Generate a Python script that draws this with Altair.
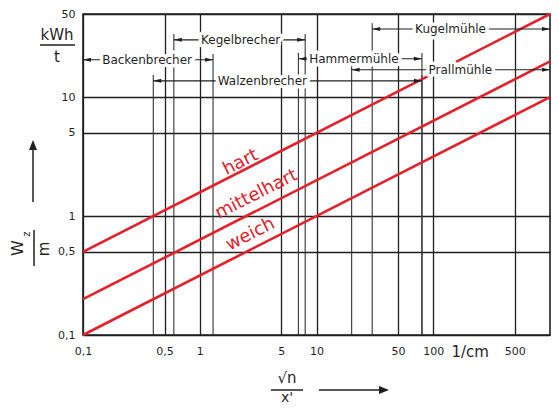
import altair as alt
import pandas as pd

# ---------------- data ----------------
series = ["hart", "hart", "mittelhart", "mittelhart", "weich", "weich"]
line_x = [0.1, 1000, 0.1, 1000, 0.1, 1000]
line_y = [0.5, 50, 0.2, 20, 0.1, 10]

label_text = ["hart", "mittelhart", "weich"]
label_x = [2.24, 3.06, 2.72]
label_y = [2.82, 1.52, 0.70]

x_ticks = [0.1, 0.5, 1, 5, 10, 50, 100, 500]
y_ticks = [0.1, 0.5, 1, 5, 10, 50]

machines = ["Backenbrecher", "Kegelbrecher", "Walzenbrecher",
            "Hammermühle", "Kugelmühle", "Prallmühle"]
m_from = [0.1, 0.6, 0.4, 7, 30, 20]
m_to = [1.3, 8, 80, 80, 1000, 1000]
m_level = [20.6, 30.3, 13.7, 21.0, 37.4, 17.0]
m_label_x = [0.354, 2.24, 3.44, 20.9, 140.6, 170.6]

X_MIN, X_MAX = 0.1, 1000
Y_MIN, Y_MAX = 0.1, 50

# ---------------- tables ----------------
lines_df = pd.DataFrame({"s": series, "x": line_x, "y": line_y})
labels_df = pd.DataFrame({"t": label_text, "x": label_x, "y": label_y})
mach_df = pd.DataFrame({"t": machines, "x": m_from, "x2": m_to,
                        "y": m_level, "xl": m_label_x})

bx, by = [], []
for f, t, lv in zip(m_from, m_to, m_level):
    for b in (f, t):
        if X_MIN < b < X_MAX:
            bx.append(b)
            by.append(lv * 1.12)
bound_df = pd.DataFrame({"x": bx, "y": by, "y2": [Y_MIN] * len(bx)})

left_df = pd.DataFrame({"x": m_from, "y": m_level})
right_df = pd.DataFrame({"x": m_to, "y": m_level})
one = pd.DataFrame({"a": [0]})
unit_df = pd.DataFrame({"x": [207], "t": ["1/cm"]})

FONT = "DejaVu Sans"
INK = "#1f1f1f"
RED = "#e4202a"

xscale = alt.Scale(type="log", domain=[X_MIN, X_MAX], nice=False)
yscale = alt.Scale(type="log", domain=[Y_MIN, Y_MAX], nice=False)

xaxis = alt.Axis(values=x_ticks, grid=True, gridColor=INK, gridWidth=1.3,
                 gridOpacity=1, ticks=False, domain=False, format="~g",
                 labelExpr="replace(datum.label, '.', ',')", labelFontSize=11,
                 labelColor=INK, labelPadding=10, labelFlush=False,
                 labelOverlap=False, labelFont=FONT, title=None)
yaxis = alt.Axis(values=y_ticks, grid=True, gridColor=INK, gridWidth=1.3,
                 gridOpacity=1, ticks=False, domain=False, format="~g",
                 labelExpr="replace(datum.label, '.', ',')", labelFontSize=11,
                 labelColor=INK, labelPadding=8, labelFlush=False,
                 labelOverlap=False, labelFont=FONT, title=None)

X = alt.X("x:Q", scale=xscale, axis=xaxis)
Y = alt.Y("y:Q", scale=yscale, axis=yaxis)

# boundary lines of the machine ranges
bounds = alt.Chart(bound_df).mark_rule(color="#333", strokeWidth=1.1).encode(
    x=X, y=Y, y2="y2:Q")

# red lines
red = alt.Chart(lines_df).mark_line(color=RED, strokeWidth=2.6).encode(
    x=X, y=Y, detail="s:N")

# bracket lines
brackets = alt.Chart(mach_df).mark_rule(color=INK, strokeWidth=1.1).encode(
    x=X, x2="x2:Q", y=Y)

arr_l = alt.Chart(left_df).mark_point(
    shape="M0,0L1,-0.25L1,0.25Z", filled=True, color=INK, size=256, opacity=1
).encode(x=X, y=Y)
arr_r = alt.Chart(right_df).mark_point(
    shape="M0,0L-1,-0.25L-1,0.25Z", filled=True, color=INK, size=256, opacity=1
).encode(x=X, y=Y)

halo = alt.Chart(mach_df).mark_text(
    font=FONT, fontSize=12, fill="white", stroke="white", strokeWidth=7,
    strokeJoin="round", baseline="middle"
).encode(x=alt.X("xl:Q", scale=xscale, axis=xaxis), y=Y, text="t:N")
mtext = alt.Chart(mach_df).mark_text(
    font=FONT, fontSize=12, color=INK, baseline="middle"
).encode(x=alt.X("xl:Q", scale=xscale, axis=xaxis), y=Y, text="t:N")

red_labels = alt.Chart(labels_df).mark_text(
    font=FONT, fontSize=18, color=RED, angle=333.3, baseline="middle"
).encode(x=X, y=Y, text="t:N")

unit = alt.Chart(unit_df).mark_text(
    font=FONT, fontSize=15, color=INK, baseline="middle"
).encode(x=X, y=alt.value(338), text="t:N")

# ---- axis titles drawn as text ----
def txt(t, x, y, size=14, angle=0):
    kw = dict(font=FONT, fontSize=size, color=INK, baseline="middle",
              align="center", text=t)
    if angle:
        kw["angle"] = angle
    return alt.Chart(one).mark_text(**kw).encode(x=alt.value(x), y=alt.value(y))

def rule(x1, x2, y1, y2, w=1.4):
    return alt.Chart(one).mark_rule(color=INK, strokeWidth=w).encode(
        x=alt.value(x1), x2=alt.value(x2), y=alt.value(y1), y2=alt.value(y2))

kwh = txt("kWh", -26, 21, 15)
kwh_bar = rule(-43, -8, 31, 31, 1.5)
tt = txt("t", -26, 43, 15)

w_lab = txt("W", -65, 234, 16, 270)
z_lab = txt("z", -56, 220, 10, 270)
wm_bar = rule(-49, -49, 216, 252, 1.5)
m_lab = txt("m", -39, 235, 15, 270)
y_arrow = rule(-50, -50, 188, 136, 1.5)
y_head = alt.Chart(one).mark_point(
    shape="M0,-1L0.4,0L-0.4,0Z", filled=True, color=INK, size=400, opacity=1
).encode(x=alt.value(-50), y=alt.value(136))

sqrt_lab = txt("\u221an", 204, 364, 15)
sqrt_bar = rule(188, 220, 376, 376, 1.5)
x_lab = txt("x'", 204, 384, 14)
x_arrow = rule(236, 298, 376, 376, 1.5)
x_head = alt.Chart(one).mark_point(
    shape="M1,0L0,-0.4L0,0.4Z", filled=True, color=INK, size=400, opacity=1
).encode(x=alt.value(296), y=alt.value(376))

chart = alt.layer(
    bounds, red, brackets, arr_l, arr_r, halo, mtext, red_labels, unit,
    kwh, kwh_bar, tt, w_lab, z_lab, wm_bar, m_lab, y_arrow, y_head,
    sqrt_lab, sqrt_bar, x_lab, x_arrow, x_head
).properties(
    width=467, height=321,
    padding={"left": 75, "top": 6, "right": 1, "bottom": 69},
    autosize=alt.AutoSizeParams(type="none"),
    background="white",
).configure_view(stroke=INK, strokeWidth=1.6)

chart.save("out.html", embed_options={"renderer": "svg", "actions": False})
